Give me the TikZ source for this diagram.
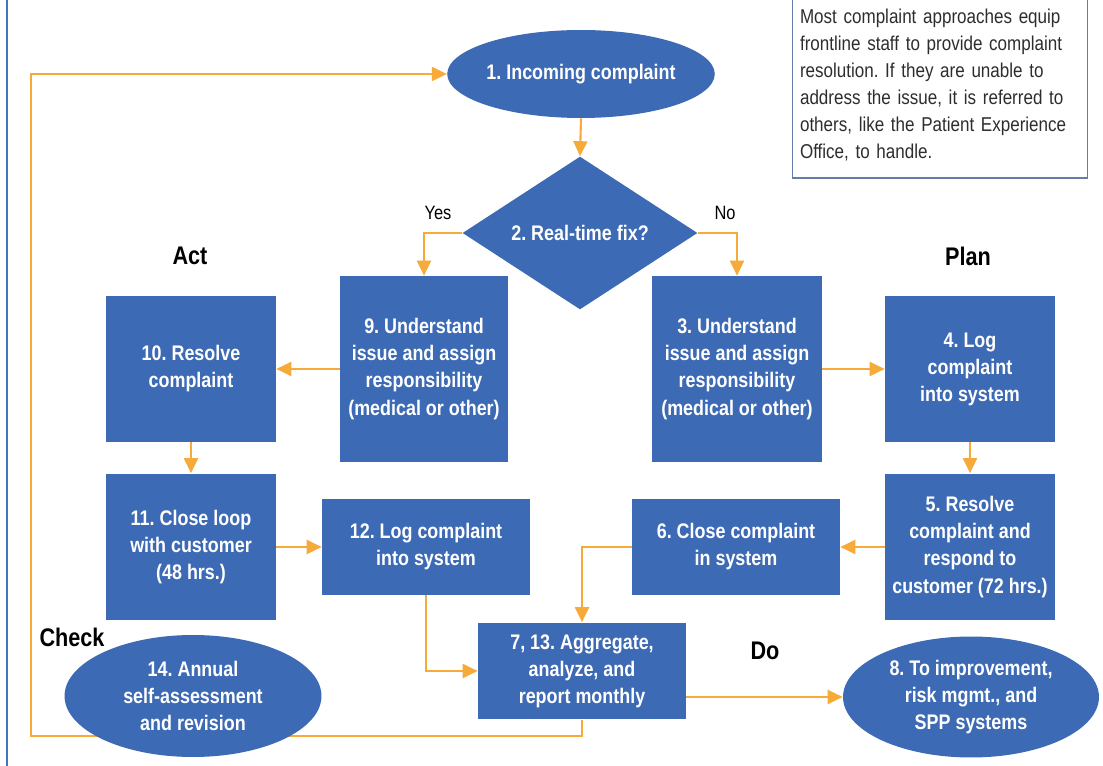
\documentclass[tikz,border=0pt]{standalone}
\usepackage{fontspec}
\setmainfont{Liberation Sans}[FakeStretch=0.85]
\usepackage{xcolor}
\usepackage{tikz}
\usetikzlibrary{shapes.geometric,arrows.meta,backgrounds}
\frenchspacing

\definecolor{azul}{RGB}{61,106,180}
\definecolor{naranja}{RGB}{245,170,58}
\definecolor{marco}{RGB}{68,114,196}
\definecolor{borde}{RGB}{100,125,165}
\definecolor{gris}{RGB}{45,45,45}

\begin{document}
\begin{tikzpicture}[x=0.02cm, y=-0.02cm,
        paso/.style={fill=azul, text=white, font=\bfseries\fontsize{12}{15.4}\selectfont, align=center, inner sep=0pt},
        caja/.style={paso, rectangle, minimum width=3.4cm, minimum height=2.92cm},
        elipse/.style={paso, ellipse, minimum width=5.1cm, minimum height=2.44cm},
        etapa/.style={font=\bfseries\fontsize{14.5}{17}\selectfont},
        rama/.style={font=\fontsize{11}{13}\selectfont},
        flecha/.style={->, draw=naranja, line width=1.2pt},
        >={Triangle[length=0.3cm, width=0.28cm]}]
        \useasboundingbox (0,0) rectangle (1103,766);
        \draw[marco, line width=1.5pt] (7,0) -- (7,766);

        \node[elipse, minimum width=5.0cm, minimum height=1.76cm] (1) at (581,74) {1. Incoming complaint};
        \node[paso, diamond, minimum width=4.7cm, minimum height=3.04cm] (2) at (580,233) {2. Real-time fix?};
        \node[caja, minimum height=3.72cm] (3) at (737,369) {3. Understand\\issue and assign\\responsibility\\(medical or other)};
        \node[caja] (4) at (970,369) {4. Log\\complaint\\into system};
        \node[caja, minimum height=2.94cm] (5) at (970,547) {5. Resolve\\complaint and\\respond to\\customer (72 hrs.)};
        \node[caja, minimum width=4.16cm, minimum height=1.94cm] (6) at (736,547) {6. Close complaint\\in system};
        \node[caja, minimum width=4.16cm, minimum height=1.94cm] (7) at (582,671) {7, 13. Aggregate,\\analyze, and\\report monthly};
        \node[elipse, minimum width=5.12cm, minimum height=2.42cm] (8) at (971,697) {8. To improvement,\\risk mgmt., and\\SPP systems};
        \node[caja, minimum width=3.36cm, minimum height=3.72cm] (9) at (424,369) {9. Understand\\issue and assign\\responsibility\\(medical or other)};
        \node[caja] (10) at (191,369) {10. Resolve\\complaint};
        \node[caja, minimum height=2.94cm] (11) at (191,547) {11. Close loop\\with customer\\(48 hrs.)};
        \node[caja, minimum width=4.16cm, minimum height=1.92cm] (12) at (426,547) {12. Log complaint\\into system};
        \node[elipse, minimum width=5.14cm] (14) at (193,696) {14. Annual\\self-assessment\\and revision};

        % PDCA
        \node[etapa] (act) at (190,256) {Act};
        \node[etapa] (plan) at (968,256) {Plan};
        \node[etapa] (check) at (72,637) {Check};
        \node[etapa] (do) at (765,651) {Do};
        \node[rama] (si) at (438,213) {Yes};
        \node[rama] (no) at (725,213) {No};

        \node[draw=borde, line width=0.8pt, text=gris, font=\fontsize{11.4}{15.4}\selectfont, align=left,
              text width=5.6cm, inner xsep=0.15cm, inner ysep=0.2cm, minimum height=3.72cm] (nota) at (940,85)
              {Most complaint approaches equip\\frontline staff to provide complaint\\resolution. If they are unable to\\address the issue, it is referred to\\others, like the Patient Experience\\Office, to handle.};

        \draw[flecha] (1.south) -- (2.north);
        \draw[flecha] (2.west) -| (9.north);  % Yes
        \draw[flecha] (2.east) -| (3.north);  % No
        \draw[flecha] (3) -- (4);
        \draw[flecha] (4) -- (5);
        \draw[flecha] (5) -- (6);
        \draw[flecha] (6.west) -| (7.north);
        \draw[flecha] (7.east |- 8.west) -- (8.west);
        \draw[flecha] (9) -- (10);
        \draw[flecha] (10) -- (11);
        \draw[flecha] (11) -- (12);
        \draw[flecha] (12.south) |- (7.west);
        \begin{scope}[on background layer]
            \draw[flecha] (7.south) |- (31,736) |- (1.west);
        \end{scope}
    \end{tikzpicture}
\end{document}
